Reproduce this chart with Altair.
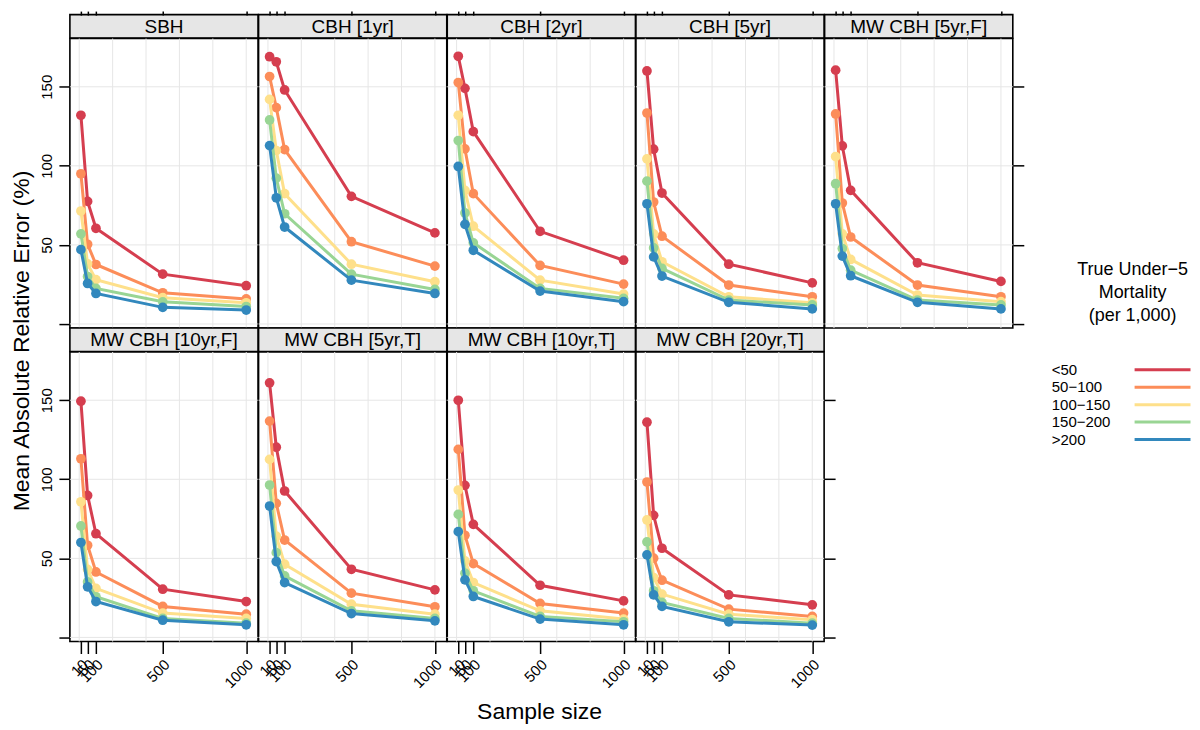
import altair as alt
import pandas as pd

# ---------------- data ----------------
sample_sizes = [10, 50, 100, 500, 1000]
groups = ["<50", "50−100", "100−150", "150−200", ">200"]
group_colors = ["#D53E4F", "#FC8D59", "#FEE08B", "#99D594", "#3288BD"]
panel_names = ["SBH", "CBH [1yr]", "CBH [2yr]", "CBH [5yr]", "MW CBH [5yr,F]",
               "MW CBH [10yr,F]", "MW CBH [5yr,T]", "MW CBH [10yr,T]", "MW CBH [20yr,T]"]

# one list per mortality group, values at the sample sizes above
sbh = [[132, 77.5, 60.5, 31.5, 24.2],
       [95, 50.4, 37.6, 19.7, 15.8],
       [71.4, 38, 28, 16.6, 13.4],
       [57, 30, 22.5, 14, 11],
       [47, 25.6, 19.3, 10.5, 8.8]]
cbh_1yr = [[169, 165.8, 148, 80.7, 57.6],
           [156.5, 136.8, 110.3, 52, 36.6],
           [142, 109.7, 82.4, 37.8, 26.7],
           [129, 92.2, 69.7, 31.5, 21.8],
           [112.8, 79.8, 61.3, 27.7, 19.3]]
cbh_2yr = [[169.3, 149, 121.6, 58.6, 40.3],
           [152.7, 110.7, 82.4, 37, 25.2],
           [132, 84.5, 61.8, 27.7, 18.9],
           [116, 70.2, 51.3, 22.5, 16.2],
           [99.6, 63, 46.6, 20.8, 14.1]]
cbh_5yr = [[160, 110.5, 82.8, 37.8, 26],
           [133.4, 77.1, 55.5, 24.6, 17.2],
           [104.4, 57, 39.3, 17.2, 13.4],
           [90.3, 48.1, 35.1, 15.1, 12],
           [76, 42.4, 30.3, 13.7, 9.5]]
mw_5yr_f = [[160.5, 112.6, 84.5, 38.7, 26.9],
            [132.8, 76.5, 55, 24.6, 17.2],
            [105.9, 57, 40.8, 18.3, 14.1],
            [88.7, 47.7, 34, 15.1, 12],
            [76, 42.9, 30.5, 13.7, 9.5]]
mw_10yr_f = [[149.4, 89.8, 65.6, 30.5, 22.7],
             [113, 58.3, 41.4, 19.6, 14.7],
             [85.8, 43, 31, 15.4, 12],
             [70.5, 35.1, 25.7, 12, 9],
             [60, 32, 22.7, 10.9, 8]]
mw_5yr_t = [[161, 120.3, 92.6, 43.1, 30.1],
            [136.8, 84.8, 61.6, 28, 19.4],
            [112.6, 64, 46.3, 21, 14.7],
            [96.4, 53.6, 38.9, 16.8, 12],
            [83.1, 48, 34.7, 15.1, 10.5]]
mw_10yr_t = [[150, 96.2, 71.5, 33, 23.1],
             [118.9, 64.6, 46.7, 21.5, 15.4],
             [93.2, 48.4, 34.7, 16.8, 11.6],
             [77.8, 40.6, 29.5, 13.3, 9.9],
             [66.9, 36.4, 25.9, 11.6, 8]]
mw_20yr_t = [[136.1, 77.2, 56.4, 26.9, 20.6],
             [98.3, 50.1, 36.2, 17.9, 13.3],
             [74.3, 37.9, 27.4, 14.7, 11.2],
             [60.4, 29.5, 22.1, 12, 9],
             [52.2, 26.9, 19.6, 9.9, 7.8]]
panel_values = [sbh, cbh_1yr, cbh_2yr, cbh_5yr, mw_5yr_f,
                mw_10yr_f, mw_5yr_t, mw_10yr_t, mw_20yr_t]

x_tick_values = [10, 50, 100, 500, 1000]
x_grid_values = [0, 200, 400, 600, 800, 1000]
y_tick_values = [0, 50, 100, 150]
y_grid_values = [0, 50, 100, 150]
legend_title = ["True Under−5", "Mortality", "(per 1,000)"]

# ---------------- layout / style ----------------
FONT = "Liberation Sans"
PW, PH, SH = 188.5, 290, 23.5
XDOM = [-56, 1071]
YDOM = [-2.6, 180.5]
BORDER = 1.6
GRID = "#e6e6e6"
TICKFS = 15

records = []
for name, vals in zip(panel_names, panel_values):
    for g, series in zip(groups, vals):
        for n, v in zip(sample_sizes, series):
            records.append({"panel": name, "group": g, "n": n, "v": v})
df = pd.DataFrame(records)
gx = pd.DataFrame({"n": x_grid_values})
gy = pd.DataFrame({"v": y_grid_values})
color_scale = alt.Scale(domain=groups, range=group_colors)


def x_axis(row):
    common = dict(values=x_tick_values, domain=False, grid=False, tickColor="black",
                  tickWidth=1.5, labelFlush=False, labelOverlap=False, format="d")
    if row == 0:
        return alt.Axis(orient="top", offset=SH, tickSize=4, labels=False, **common)
    return alt.Axis(orient="bottom", tickSize=12, labelAngle=315, labelAlign="right",
                    labelBaseline="middle", labelPadding=8, labelOffset=4,
                    labelFont=FONT, labelFontSize=TICKFS, labelColor="black",
                    titleX=470, titleY=77, titleAlign="center", titleBaseline="alphabetic",
                    titleFont=FONT, titleFontSize=23, titleFontWeight="normal",
                    titleColor="black", **common)


def y_axis(row, col, last):
    common = dict(values=y_tick_values, domain=False, grid=False, tickColor="black",
                  tickWidth=1.5, tickSize=11, labelFlush=False, labelOverlap=False, format="d")
    if col == 0:
        return alt.Axis(orient="left", labelAngle=270, labelAlign="center",
                        labelBaseline="bottom", labelPadding=4, labelFont=FONT,
                        labelFontSize=TICKFS, labelColor="black",
                        labelExpr="datum.value == 0 ? '' : datum.label",
                        titleX=-48.3, titleY=302.5, titleAngle=270, titleAlign="center",
                        titleBaseline="middle", titleFont=FONT, titleFontSize=23,
                        titleFontWeight="normal", titleColor="black", **common)
    if col == last:
        return alt.Axis(orient="right", labels=False, **common)
    return None


def plot_panel(name, row, col, last):
    xt = "Sample size" if (row == 1 and col == 0) else None
    yt = "Mean Absolute Relative Error (%)" if (row == 0 and col == 0) else None
    x = alt.X("n:Q", title=xt, scale=alt.Scale(domain=XDOM, nice=False, zero=False),
              axis=x_axis(row))
    y = alt.Y("v:Q", title=yt, scale=alt.Scale(domain=YDOM, nice=False, zero=False),
              axis=y_axis(row, col, last))
    layers = [
        alt.Chart(gx).mark_rule(color=GRID, strokeWidth=1).encode(x=x),
        alt.Chart(gy).mark_rule(color=GRID, strokeWidth=1).encode(y=y),
    ]
    for g in groups:
        base = alt.Chart(df).transform_filter(
            (alt.datum.panel == name) & (alt.datum.group == g)
        ).encode(x=x, y=y, color=alt.Color("group:N", scale=color_scale, legend=None))
        layers.append(base.mark_line(strokeWidth=3))
        layers.append(base.mark_circle(size=95, opacity=1))
    return alt.layer(*layers).properties(
        width=PW, height=PH,
        view=alt.ViewBackground(stroke="black", strokeWidth=BORDER, fill="white"))


def strip(name):
    return alt.Chart(pd.DataFrame({"label": [name]})).mark_text(
        font=FONT, fontSize=19, color="black", align="center", baseline="middle"
    ).encode(text="label:N", x=alt.value(PW / 2), y=alt.value(SH / 2 + 0.5)).properties(
        width=PW, height=SH,
        view=alt.ViewBackground(fill="#e6e6e6", stroke="black", strokeWidth=BORDER))


def blank(h):
    return alt.Chart(pd.DataFrame({"label": [""]})).mark_text().encode(
        text="label:N").properties(
        width=PW, height=h, view=alt.ViewBackground(strokeWidth=0, stroke="transparent"))


# legend drawn in the empty cell (row 2, column 5); offsets relative to that cell
LX = PW  # legend block starts one panel width right of the empty cell
legend_df = pd.DataFrame({"group": groups})
ly = alt.Y("group:N", scale=alt.Scale(domain=groups, type="point", range=[17.7, 87.7], padding=0),
           axis=None)
leg_title = alt.Chart(pd.DataFrame({"t": [0]})).mark_text(
    text=legend_title, font=FONT, fontSize=18, align="center", baseline="alphabetic",
    lineHeight=23, color="black").encode(x=alt.value(LX + 120), y=alt.value(-77.3))
leg_labels = alt.Chart(legend_df).mark_text(
    font=FONT, fontSize=15, align="left", baseline="middle", color="black"
).encode(x=alt.value(LX + 39), y=ly, text="group:N")
leg_lines = alt.Chart(legend_df).mark_rule(strokeWidth=3).encode(
    x=alt.value(LX + 122), x2=alt.value(LX + 178), y=ly,
    color=alt.Color("group:N", scale=color_scale, legend=None))
legend = alt.layer(leg_title, leg_labels, leg_lines).properties(
    width=PW, height=PH, view=alt.ViewBackground(strokeWidth=0, stroke="transparent"))

top = panel_names[:5]
bottom = panel_names[5:]
cells = ([strip(n) for n in top]
         + [plot_panel(n, 0, i, 4) for i, n in enumerate(top)]
         + [strip(n) for n in bottom] + [blank(SH)]
         + [plot_panel(n, 1, i, 3) for i, n in enumerate(bottom)] + [legend])

chart = alt.concat(*cells, columns=5, spacing=0, bounds="flush").properties(
    padding={"left": 1, "top": 0, "right": 0, "bottom": 0}, background="white"
).configure(font=FONT)

chart.save("out.html", embed_options={"renderer": "svg", "actions": False})
